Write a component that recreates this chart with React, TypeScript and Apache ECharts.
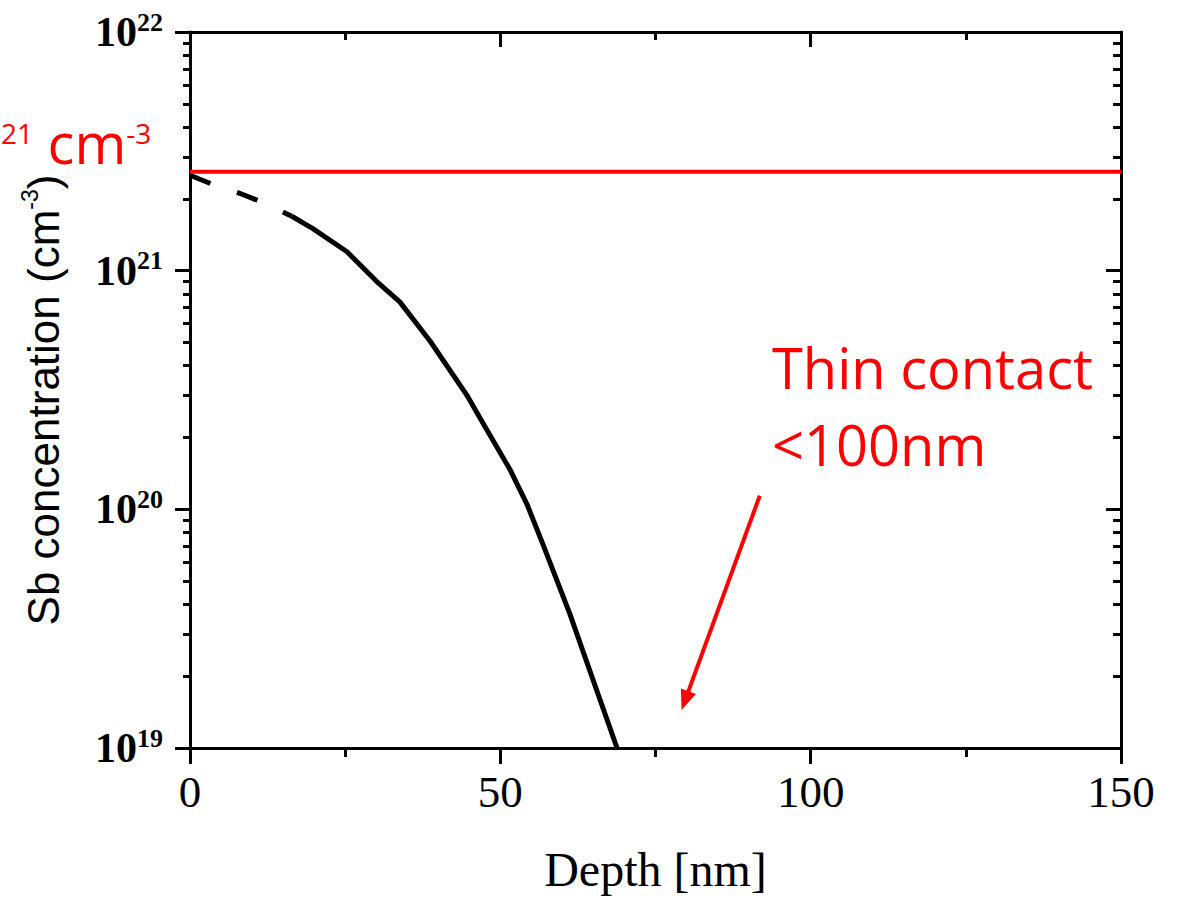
import React, { useEffect, useRef } from "react";
import * as echarts from "echarts";

// Depth (nm) and Sb concentration (cm^-3)
const dashedDepth = [0, 4, 8, 12, 16.4];
const dashedConc = [2.51e21, 2.28e21, 2.11e21, 1.92e21, 1.69e21];
const solidDepth = [16.4, 19.8, 25.3, 30.1, 33.8, 38.7, 44.6, 46.7, 51.6, 54.3, 56.9, 61.2, 68.8];
const solidConc = [1.69e21, 1.5e21, 1.2e21, 9.0e20, 7.4e20, 5.06e20, 3.01e20, 2.42e20, 1.46e20, 1.05e20, 7.1e19, 3.65e19, 1.0e19];
const limitDepth = [0, 150];
const limitConc = [2.6e21, 2.6e21];
const arrowFrom = [91.8, 1.14e20];
const arrowTo = [79.75, 1.58e19];

const yMajor = [1e19, 1e20, 1e21, 1e22];
const yMinorMant = [2, 3, 4, 5, 6, 7, 8, 9];
const yMinorExp = [19, 20, 21];
const xTickLabels = ["0", "50", "100", "150"];

const zip = (a: number[], b: number[]) => a.map((v, i) => [v, b[i]]);

export default function App() {
  const ref = useRef<HTMLDivElement>(null);
  useEffect(() => {
    document.body.style.margin = "0";
    if (!ref.current) return;
    const chart = echarts.init(ref.current, null, { renderer: "svg" });
    const yMinor: number[] = [];
    yMinorExp.forEach((e) => yMinorMant.forEach((m) => yMinor.push(m * Math.pow(10, e))));
    const black = "#000";
    const serif = "Liberation Serif";
    const logCommon = {
      type: "log" as const,
      logBase: 10,
      min: 1e19,
      max: 1e22,
      splitLine: { show: false },
      minorSplitLine: { show: false },
    };
    chart.setOption({
      animation: false,
      backgroundColor: "#fff",
      grid: { left: 190, right: 62, top: 32, bottom: 146, containLabel: false },
      xAxis: [
        {
          type: "value",
          min: 0,
          max: 150,
          interval: 50,
          position: "bottom",
          axisLine: { show: true, onZero: false, lineStyle: { color: black, width: 3 } },
          axisTick: { show: true, inside: false, length: 16, lineStyle: { color: black, width: 3 } },
          minorTick: { show: true, splitNumber: 2, length: 9, lineStyle: { color: black, width: 3 } },
          splitLine: { show: false },
          axisLabel: {
            color: black,
            fontFamily: serif,
            fontSize: 45,
            margin: 21,
            formatter: (v: number) => xTickLabels[Math.round(v / 50)] ?? String(v),
          },
          name: "Depth [nm]",
          nameLocation: "middle",
          nameGap: 97,
          nameTextStyle: { color: black, fontFamily: serif, fontSize: 48 },
        },
        {
          type: "value",
          min: 0,
          max: 150,
          interval: 50,
          position: "top",
          axisLine: { show: true, onZero: false, lineStyle: { color: black, width: 3 } },
          axisTick: { show: true, inside: true, length: 15, lineStyle: { color: black, width: 3 } },
          minorTick: { show: true, splitNumber: 2, length: 8, lineStyle: { color: black, width: 3 } },
          splitLine: { show: false },
          axisLabel: { show: false },
        },
      ],
      yAxis: [
        {
          ...logCommon,
          position: "left",
          axisLine: { show: true, onZero: false, lineStyle: { color: black, width: 3 } },
          axisTick: { show: true, inside: false, length: 15, customValues: yMajor, lineStyle: { color: black, width: 3 } },
          axisLabel: {
            customValues: yMajor,
            margin: 27,
            formatter: (v: number) => `{b|10}{s|${Math.round(Math.log10(v))}}`,
            rich: {
              b: { fontFamily: serif, fontWeight: "bold", fontSize: 42, lineHeight: 46, color: black },
              s: { fontFamily: serif, fontWeight: "bold", fontSize: 26, lineHeight: 10, verticalAlign: "top", color: black },
            },
          },
          name: "Sb concentration (cm{sup|-3})",
          nameLocation: "middle",
          nameRotate: 90,
          nameGap: 122,
          nameTextStyle: {
            color: black,
            fontFamily: "Liberation Sans",
            fontSize: 44,
            lineHeight: 50,
            padding: [0, 20, 0, 0],
            rich: {
              sup: { fontFamily: "Liberation Sans", fontSize: 23, lineHeight: 26, verticalAlign: "top", color: black },
            },
          },
        },
        {
          ...logCommon,
          position: "left",
          axisLine: { show: false, onZero: false },
          axisTick: { show: true, inside: false, length: 7, customValues: yMinor, lineStyle: { color: black, width: 3 } },
          axisLabel: { show: false },
        },
        {
          ...logCommon,
          position: "right",
          axisLine: { show: true, onZero: false, lineStyle: { color: black, width: 3 } },
          axisTick: { show: true, inside: true, length: 15, customValues: yMajor, lineStyle: { color: black, width: 3 } },
          axisLabel: { show: false },
        },
        {
          ...logCommon,
          position: "right",
          axisLine: { show: false, onZero: false },
          axisTick: { show: true, inside: true, length: 8, customValues: yMinor, lineStyle: { color: black, width: 3 } },
          axisLabel: { show: false },
        },
      ],
      series: [
        {
          name: "Sb (dashed)",
          type: "line",
          xAxisIndex: 0,
          yAxisIndex: 0,
          data: zip(dashedDepth, dashedConc),
          showSymbol: false,
          lineStyle: { color: black, width: 5, type: [22, 28], cap: "butt" },
          z: 3,
        },
        {
          name: "Sb",
          type: "line",
          xAxisIndex: 0,
          yAxisIndex: 0,
          data: zip(solidDepth, solidConc),
          showSymbol: false,
          lineStyle: { color: black, width: 5 },
          z: 3,
        },
        {
          name: "limit",
          type: "line",
          xAxisIndex: 0,
          yAxisIndex: 0,
          data: zip(limitDepth, limitConc),
          showSymbol: false,
          lineStyle: { color: "#ff0000", width: 4 },
          z: 4,
          markLine: {
            silent: true,
            symbol: ["none", "triangle"],
            symbolSize: [16, 20],
            label: { show: false },
            lineStyle: { color: "#ff0000", width: 4, type: "solid" },
            data: [[{ coord: arrowFrom }, { coord: arrowTo }]],
          },
        },
      ],
      graphic: [
        {
          type: "text",
          left: 1,
          top: 112,
          style: {
            text: "{sup|21}{n| cm}{sup|-3}",
            fill: "#ff0000",
            rich: {
              n: { fontFamily: "Open Sans", fontSize: 56, lineHeight: 60, fill: "#ff0000" },
              sup: { fontFamily: "Open Sans", fontSize: 28, lineHeight: 28, padding: [7, 0, 0, 0], verticalAlign: "top", fill: "#ff0000" },
            },
          },
        },
        {
          type: "text",
          left: 772,
          top: 328,
          style: {
            text: "Thin contact\n<100nm",
            fill: "#ff0000",
            fontFamily: "Open Sans",
            fontSize: 56,
            lineHeight: 77,
          },
        },
      ],
    });
    return () => chart.dispose();
  }, []);
  return <div ref={ref} style={{ width: 1183, height: 898 }} />;
}
